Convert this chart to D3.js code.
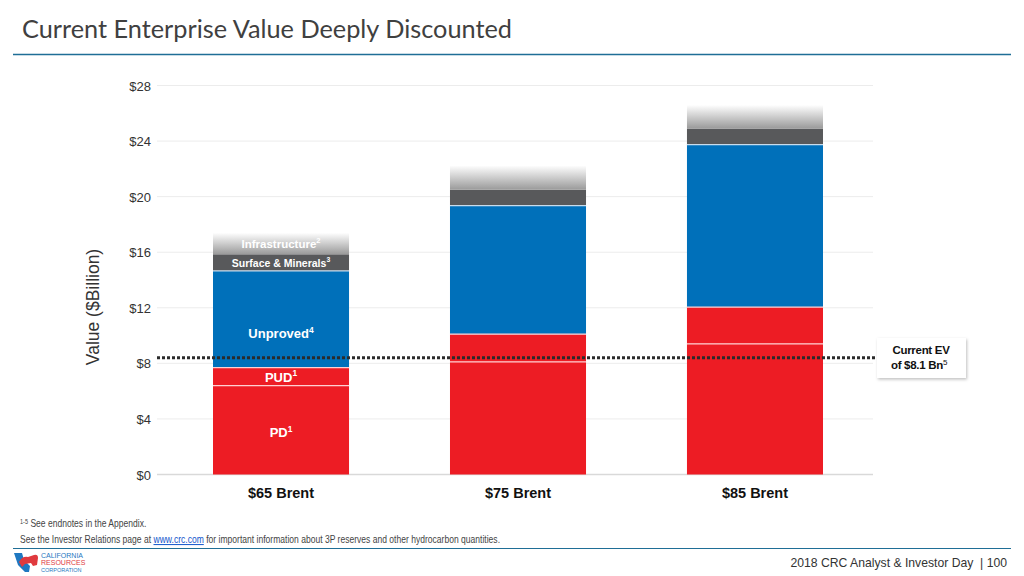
<!DOCTYPE html>
<html><head><meta charset="utf-8">
<script src="https://cdn.jsdelivr.net/npm/d3@7"></script>
<style>
html,body{margin:0;padding:0;background:#fff;}
svg{display:block;}
</style></head>
<body>
<svg id="chart" width="1024" height="576"></svg>
<script>
// ---- data ----
const categories = ["$65 Brent", "$75 Brent", "$85 Brent"];
const pdValues = [6.4, 8.1, 9.4];
const pudValues = [1.3, 2.0, 2.65];
const unprovedValues = [6.95, 9.25, 11.7];
const surfaceValues = [1.2, 1.15, 1.15];
const infraValues = [1.55, 1.75, 1.7];
const yTicks = [0, 4, 8, 12, 16, 20, 24, 28];
const currentEV = 8.4; // drawn position of the dotted EV line
const seriesKeys = ["PD", "PUD", "Unproved", "Surface", "Infra"];

const rows = categories.map((c, i) => ({
  cat: c, PD: pdValues[i], PUD: pudValues[i], Unproved: unprovedValues[i],
  Surface: surfaceValues[i], Infra: infraValues[i]
}));

const svg = d3.select("#chart");
const font = "'Liberation Sans', Arial, sans-serif";

// title
svg.append("text").attr("x", 22).attr("y", 38)
  .attr("font-family", "Lato, 'Open Sans', sans-serif").attr("font-size", 25.3)
  .attr("fill", "#404040").text("Current Enterprise Value Deeply Discounted");
svg.append("line").attr("x1", 13).attr("x2", 1011).attr("y1", 54.5).attr("y2", 54.5)
  .attr("stroke", "#1f6e96").attr("stroke-width", 1.3);

// scales
const x = d3.scaleBand().domain(categories).range([163, 873]).paddingInner(0.426).paddingOuter(0.211);
const y = d3.scaleLinear().domain([0, 28]).range([474.5, 85.5]);

// gridlines
svg.append("g").selectAll("line").data(yTicks).join("line")
  .attr("x1", 157).attr("x2", 873)
  .attr("y1", d => y(d)).attr("y2", d => y(d))
  .attr("stroke", d => d === 0 ? "#d9d9d9" : "#ececec").attr("stroke-width", d => d === 0 ? 1.5 : 1);

// y axis labels
const yAxis = d3.axisLeft(y).tickValues(yTicks).tickFormat(d => "$" + d).tickSize(0).tickPadding(0);
const ga = svg.append("g").attr("transform", "translate(151,0)").call(yAxis);
ga.select(".domain").remove();
ga.selectAll("text").attr("font-family", font).attr("font-size", 13).attr("fill", "#333").attr("dy", "0.35em");

svg.append("text").attr("transform", "translate(99,307) rotate(-90)")
  .attr("text-anchor", "middle").attr("font-family", font).attr("font-size", 17.5)
  .attr("fill", "#333").text("Value ($Billion)");

// gradient for infrastructure
const defs = svg.append("defs");
const grad = defs.append("linearGradient").attr("id", "infraGrad").attr("x1", 0).attr("x2", 0).attr("y1", 0).attr("y2", 1);
grad.append("stop").attr("offset", "0%").attr("stop-color", "#ffffff");
grad.append("stop").attr("offset", "100%").attr("stop-color", "#9a9a9a");
const filt = defs.append("filter").attr("id", "shadow").attr("x", "-20%").attr("y", "-20%").attr("width", "140%").attr("height", "150%");
filt.append("feDropShadow").attr("dx", 1).attr("dy", 1.5).attr("stdDeviation", 1.5).attr("flood-color", "#000").attr("flood-opacity", 0.25);

const colors = { PD: "#ed1c24", PUD: "#ed1c24", Unproved: "#0070ba", Surface: "#58595b", Infra: "url(#infraGrad)" };
const stacked = d3.stack().keys(seriesKeys)(rows);

const layers = svg.append("g").selectAll("g").data(stacked).join("g");
layers.selectAll("rect").data(d => d.map(v => ({ key: d.key, v }))).join("rect")
  .attr("x", d => x(d.v.data.cat))
  .attr("width", x.bandwidth())
  .attr("y", d => y(d.v[1]))
  .attr("height", d => y(d.v[0]) - y(d.v[1]))
  .attr("fill", d => colors[d.key]);

// thin separators between segments
const sepKeys = ["PD", "PUD", "Unproved"];
svg.append("g").selectAll("line")
  .data(stacked.filter(s => sepKeys.includes(s.key)).flatMap(s => s.map(v => ({ key: s.key, v }))))
  .join("line")
  .attr("x1", d => x(d.v.data.cat)).attr("x2", d => x(d.v.data.cat) + x.bandwidth())
  .attr("y1", d => y(d.v[1])).attr("y2", d => y(d.v[1]))
  .attr("stroke", d => d.key === "Unproved" ? "#c9dcec" : "#ffd0d2").attr("stroke-width", 1.2);

// segment labels (first bar only)
const b1 = stacked.map(s => s[0]);
const cx = x(categories[0]) + x.bandwidth() / 2;
function segLabel(txt, sup, yy, size, fill) {
  const t = svg.append("text").attr("x", cx).attr("y", yy).attr("text-anchor", "middle")
    .attr("font-family", font).attr("font-weight", "bold").attr("font-size", size).attr("fill", fill);
  t.append("tspan").text(txt);
  t.append("tspan").attr("font-size", size * 0.65).attr("dy", -size * 0.4).text(sup);
}
segLabel("PD", "1", y(b1[0][1] / 2) + 7, 13, "#fff");
segLabel("PUD", "1", (y(b1[1][0]) + y(b1[1][1])) / 2 + 5, 13, "#fff");
segLabel("Unproved", "4", y(b1[2][0] + 2.1), 13, "#fff");
segLabel("Surface & Minerals", "3", (y(b1[3][0]) + y(b1[3][1])) / 2 + 4, 10.5, "#fff");
segLabel("Infrastructure", "2", (y(b1[4][0]) + y(b1[4][1])) / 2 + 4, 11.5, "#fff");

// category labels
svg.append("g").selectAll("text").data(categories).join("text")
  .attr("x", d => x(d) + x.bandwidth() / 2).attr("y", 498)
  .attr("text-anchor", "middle").attr("font-family", font).attr("font-weight", "bold")
  .attr("font-size", 14.5).attr("fill", "#111").text(d => d);

// current EV dotted line
svg.append("line").attr("x1", 157).attr("x2", 877).attr("y1", y(currentEV)).attr("y2", y(currentEV))
  .attr("stroke", "#2b2b2b").attr("stroke-width", 3).attr("stroke-dasharray", "3,2");

// callout
svg.append("rect").attr("x", 877).attr("y", 338).attr("width", 89).attr("height", 40)
  .attr("fill", "#fff").attr("filter", "url(#shadow)");
svg.append("text").attr("x", 921).attr("y", 354).attr("text-anchor", "middle")
  .attr("font-family", font).attr("font-weight", "bold").attr("font-size", 11.5).attr("fill", "#111")
  .attr("letter-spacing", -0.3).text("Current EV");
const ev2 = svg.append("text").attr("x", 919).attr("y", 369).attr("text-anchor", "middle")
  .attr("font-family", font).attr("font-weight", "bold").attr("font-size", 11.5).attr("fill", "#111").attr("letter-spacing", -0.3);
ev2.append("tspan").text("of $8.1 Bn");
ev2.append("tspan").attr("font-weight", "normal").attr("font-size", 8).attr("dy", -4).text("5");

// footnotes (horizontally condensed)
const fg1 = svg.append("g").attr("transform", "translate(20,527) scale(0.855,1)");
const fn1 = fg1.append("text").attr("x", 0).attr("y", 0).attr("font-family", font).attr("font-size", 10).attr("fill", "#444");
fn1.append("tspan").attr("font-size", 6.5).attr("dy", -3).text("1-5");
fn1.append("tspan").attr("dy", 3).text(" See endnotes in the Appendix.");
const fg2 = svg.append("g").attr("transform", "translate(20,543) scale(0.855,1)");
const fn2 = fg2.append("text").attr("x", 0).attr("y", 0).attr("font-family", font).attr("font-size", 10).attr("fill", "#444");
fn2.append("tspan").text("See the Investor Relations page at ");
fn2.append("tspan").attr("fill", "#1155cc").attr("text-decoration", "underline").text("www.crc.com");
fn2.append("tspan").text(" for important information about 3P reserves and other hydrocarbon quantities.");

svg.append("line").attr("x1", 13).attr("x2", 1011).attr("y1", 548.5).attr("y2", 548.5)
  .attr("stroke", "#1f6e96").attr("stroke-width", 1.2);

svg.append("text").attr("x", 1007).attr("y", 567).attr("text-anchor", "end")
  .attr("font-family", font).attr("font-size", 12.2).attr("fill", "#333")
  .attr("xml:space", "preserve").text("2018 CRC Analyst & Investor Day  | 100");

// logo
const logo = svg.append("g");
logo.append("path").attr("d", "M14,553 L22,553 L24,560 L30,566 L29,572 L25,572 L18,565 Z").attr("fill", "#1f78c1");
logo.append("path").attr("d", "M19,562 Q22,556 28,557 L34,555 Q38,554 38,558 L37,565 L33,566 L31,563 L25,564 L22,567 Z").attr("fill", "#e03a3e");
const lt = [["CALIFORNIA", 558, "#1f78c1"], ["RESOURCES", 565, "#e03a3e"], ["CORPORATION", 571.5, "#1f78c1"]];
logo.selectAll("text").data(lt).join("text").attr("x", 41).attr("y", d => d[1])
  .attr("font-family", font).attr("font-size", d => d[0] === "CORPORATION" ? 5.5 : 7)
  .attr("fill", d => d[2]).text(d => d[0]);
</script>
</body></html>
